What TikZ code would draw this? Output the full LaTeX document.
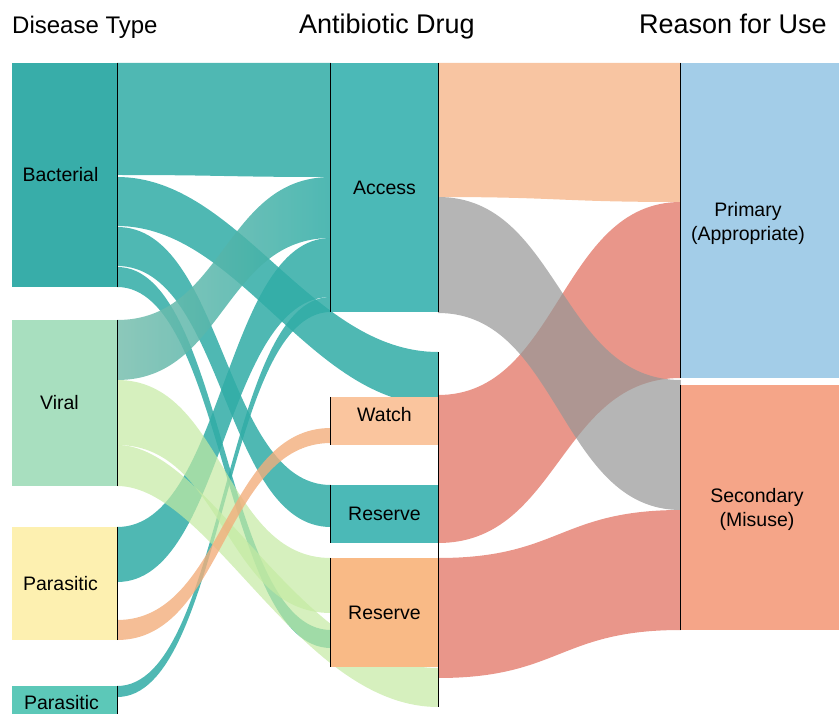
\documentclass[tikz,border=0pt]{standalone}
\usepackage{fontspec}
\setmainfont{Liberation Sans}
\usetikzlibrary{calc,backgrounds}
\definecolor{bact_fil}{RGB}{56, 173, 169}
\definecolor{acc_fil}{RGB}{75, 185, 183}
\definecolor{vir_fil}{RGB}{168, 223, 191}
\definecolor{par_fil}{RGB}{253, 240, 176}
\definecolor{parb_fil}{RGB}{92, 200, 184}
\definecolor{watch_fil}{RGB}{250, 197, 158}
\definecolor{resb_fil}{RGB}{249, 186, 134}
\definecolor{prim_fil}{RGB}{163, 205, 232}
\definecolor{sec_fil}{RGB}{245, 165, 136}
\definecolor{teal_fl}{RGB}{48, 172, 166}
\definecolor{mix_fl}{RGB}{120, 190, 174}
\definecolor{green_fl}{RGB}{196, 234, 162}
\definecolor{orange_fl}{RGB}{242, 174, 124}
\definecolor{peach_fl}{RGB}{248, 197, 162}
\definecolor{red_fl}{RGB}{233, 150, 138}
\definecolor{gray_fl}{RGB}{150, 150, 150}
\newcommand\lwid{105pt}
\newcommand\mwid{107pt}
\newcommand\rwid{158pt}
\tikzset{box/.style = {rectangle, inner sep=0pt, align=center, font=\fontsize{19.5}{24}\selectfont}}
\tikzset{title/.style = {anchor=base, inner sep=0pt, font=\fontsize{27}{30}\selectfont}}
\tikzset{sidebar/.style = {line width=0.9pt, black}}
\tikzset{teal_flow/.style = {fill=teal_fl, fill opacity=0.85}}
\tikzset{mix_flow/.style = {left color=mix_fl, right color=teal_fl, fill opacity=0.85}}
\tikzset{green_flow/.style = {fill=green_fl, fill opacity=0.7}}
\tikzset{orange_flow/.style = {fill=orange_fl, fill opacity=0.8}}
\tikzset{gray_flow/.style = {fill=gray_fl, fill opacity=0.7}}
% band: style, from anchor, top, bottom, to anchor, top, bottom, bend at start, bend at end
\newcommand\band[9]{%
  \path[#1] let \p1=(#2), \p2=(#5) in
    (\x1,-#3pt) .. controls (\x1+#8*\x2-#8*\x1,-#3pt) and (\x2-#9*\x2+#9*\x1,-#6pt) .. (\x2,-#6pt)
    -- (\x2,-#7pt) .. controls (\x2-#9*\x2+#9*\x1,-#7pt) and (\x1+#8*\x2-#8*\x1,-#4pt) .. (\x1,-#4pt) -- cycle;}

\begin{document}
\begin{tikzpicture}[x=1pt, y=-1pt]
\useasboundingbox (0,0) rectangle (839,714);

\node[title, anchor=base west, font=\fontsize{24}{27}\selectfont] (dtitle) at (12,34) {Disease Type};
\node[title] (atitle) at (387,34) {Antibiotic Drug};
\node[title] (rtitle) at (733,34) {Reason for Use};

\node[box, fill=bact_fil, minimum width=\lwid, minimum height=224pt, label={[box, xshift=-4pt]center:Bacterial}] (bact) at (64.5,175) {};
\node[box, fill=vir_fil, minimum width=\lwid, minimum height=166pt, label={[box, xshift=-5pt]center:Viral}] (vir) at (64.5,403) {};
\node[box, fill=par_fil, minimum width=\lwid, minimum height=113pt, label={[box, xshift=-4pt]center:Parasitic}] (par) at (64.5,583.5) {};
\node[box, fill=parb_fil, minimum width=\lwid, minimum height=34pt, label={[box, xshift=-3pt]center:Parasitic}] (parb) at (64.5,703) {};

\node[box, fill=acc_fil, minimum width=\mwid, minimum height=249pt] (acc) at (384.5,187.5) {Access};
\node[box, fill=watch_fil, minimum width=\mwid, minimum height=48pt, label={[box, yshift=6pt]center:Watch}] (watch) at (384.5,421) {};
\node[box, fill=acc_fil, minimum width=\mwid, minimum height=58pt] (resa) at (384.5,514) {Reserve};
\node[box, fill=resb_fil, minimum width=\mwid, minimum height=109pt] (resb) at (384.5,612.5) {Reserve};

\node[box, fill=prim_fil, minimum width=\rwid, minimum height=315pt, label={[box, xshift=-12pt, yshift=-3pt]center:Primary\\(Appropriate)}] (prim) at (760,220.5) {};
\node[box, fill=sec_fil, minimum width=\rwid, minimum height=245pt, label={[box, xshift=-3pt, yshift=-2pt]center:Secondary\\(Misuse)}] (sec) at (760,507.5) {};

\begin{pgfonlayer}{background}
% disease to drug
\foreach \sa/\sat/\sab/\da/\dat/\dab in {bact.east/63/175/acc.west/63/177, bact.east/227/266/resa.west/485/527, bact.east/267/287/resb.west/630/648, par.east/527/582/acc.west/238/297, parb.east/686/697/acc.west/297/312}
	\band{teal_flow}{\sa}{\sat}{\sab}{\da}{\dat}{\dab}{.5}{.5};
\band{teal_flow}{bact.east}{177}{226}{acc.east}{352}{405}{.38}{.4};
\band{mix_flow}{vir.east}{320}{380}{acc.west}{177}{238}{.5}{.5};
\band{green_flow}{vir.east}{380}{445}{resb.west}{558}{613}{.5}{.5};
\band{green_flow}{vir.east}{445}{486}{resb.east}{668}{707}{.29}{.43};
\band{orange_flow}{par.east}{620}{640}{watch.west}{428}{443}{.5}{.5};
% drug to reason
\band{fill=peach_fl}{acc.east}{63}{197}{prim.west}{63}{202}{.5}{.5};
\foreach \sa/\sat/\sab/\da/\dat/\dab in {resa.east/395/543/prim.west/202/378, resb.east/558/678/sec.west/510/630}
	\band{fill=red_fl}{\sa}{\sat}{\sab}{\da}{\dat}{\dab}{.5}{.5};
\band{gray_flow}{acc.east}{197}{313}{sec.west}{380}{510}{.5}{.5};
\end{pgfonlayer}

\foreach \nd in {bact,vir,par,parb}
	\draw[sidebar] (\nd.north east) -- (\nd.south east);
\foreach \nd in {acc,watch,resa,resb}
	\draw[sidebar] (\nd.north west) -- (\nd.south west);
\draw[sidebar] (acc.north east) -- (acc.south east);
\draw[sidebar] ([yshift=-40pt]acc.south east) -- ([yshift=-40pt]resb.south east);
\foreach \nd in {prim,sec}
	\draw[sidebar] (\nd.north west) -- (\nd.south west);
\end{tikzpicture}
\end{document}
